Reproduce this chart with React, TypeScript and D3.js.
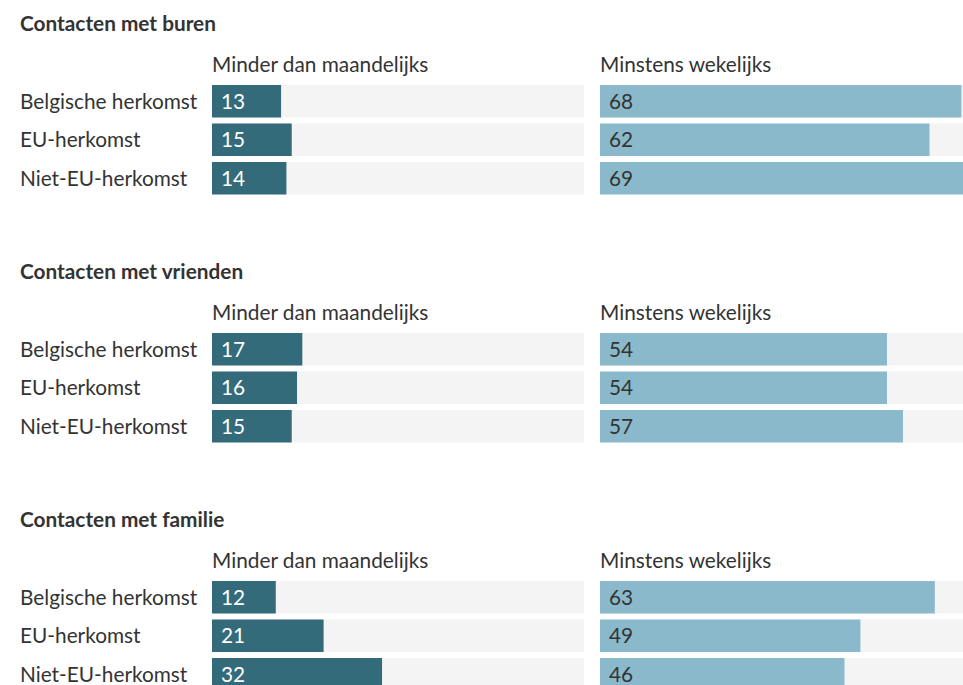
import React from "react";
import * as d3 from "d3";

const topics = ["Contacten met buren", "Contacten met vrienden", "Contacten met familie"];
const groups = ["Belgische herkomst", "EU-herkomst", "Niet-EU-herkomst"];
const columns = ["Minder dan maandelijks", "Minstens wekelijks"];
const lessThanMonthly = [
  [13, 15, 14],
  [17, 16, 15],
  [12, 21, 32],
];
const atLeastWeekly = [
  [68, 62, 69],
  [54, 54, 57],
  [63, 49, 46],
];

const W = 963;
const H = 685;
const PANEL_STEP = 248;
const COL_X = [212, 600];
const TRACK_W = 372;
const COLORS = ["#346b7a", "#8ab9cb"];
const LABEL_COLORS = ["#ffffff", "#333333"];
const FONT = "Lato, 'Noto Sans', sans-serif";
const TEXT_SIZE = 20.8;

export default function App() {
  const x = d3.scaleLinear().domain([0, 70]).range([0, TRACK_W]);
  const y = d3
    .scaleBand<string>()
    .domain(groups)
    .range([85, 194.5])
    .paddingInner(6 / 38.5)
    .paddingOuter(0);

  const series = [lessThanMonthly, atLeastWeekly];

  return (
    <svg
      width={W}
      height={H}
      style={{ position: "fixed", top: 0, left: 0, background: "#fff" }}
      fontFamily={FONT}
    >
      {topics.map((topic, ti) => (
        <g key={topic} transform={`translate(0,${ti * PANEL_STEP})`}>
          <text x={20} y={31} fontSize={20.8} fontWeight={700} fill="#333">
            {topic}
          </text>
          {groups.map((g) => (
            <text
              key={g}
              x={20}
              y={(y(g) ?? 0) + y.bandwidth() / 2}
              dy="0.36em"
              fontSize={TEXT_SIZE}
              fill="#333"
            >
              {g}
            </text>
          ))}
          {columns.map((col, ci) => (
            <g key={col} transform={`translate(${COL_X[ci]},0)`}>
              <text x={0} y={72} fontSize={TEXT_SIZE} fill="#333">
                {col}
              </text>
              {groups.map((g, gi) => {
                const v = series[ci][ti][gi];
                const top = y(g) ?? 0;
                return (
                  <g key={g}>
                    <rect x={0} y={top} width={TRACK_W} height={y.bandwidth()} fill="#f4f4f4" />
                    <rect x={0} y={top} width={x(v)} height={y.bandwidth()} fill={COLORS[ci]} />
                    <text
                      x={9}
                      y={top + y.bandwidth() / 2}
                      dy="0.36em"
                      fontSize={TEXT_SIZE}
                      fill={LABEL_COLORS[ci]}
                    >
                      {v}
                    </text>
                  </g>
                );
              })}
            </g>
          ))}
        </g>
      ))}
    </svg>
  );
}
